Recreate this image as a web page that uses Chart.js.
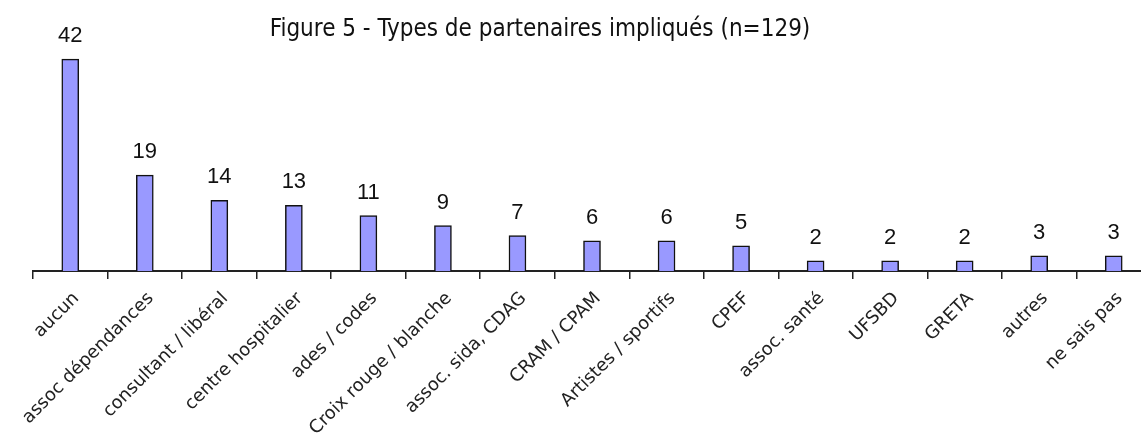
<!DOCTYPE html>
<html lang="fr">
<head>
    <meta charset="UTF-8">
    <title>Figure 5 - Types de partenaires impliqués</title>
    <script src="https://cdn.jsdelivr.net/npm/chart.js"></script>
    <style>
        html, body {
            margin: 0;
            padding: 0;
            background-color: #ffffff;
            overflow: hidden;
        }
        #chart-box {
            width: 1151px;
            height: 437px;
        }
    </style>
</head>
<body>
    <div id="chart-box">
        <canvas id="partnersChart" width="1151" height="437"></canvas>
    </div>
    <script>
        const titleText = 'Figure 5 - Types de partenaires impliqués (n=129)';
        const categories = [
            'aucun', 'assoc dépendances', 'consultant / libéral', 'centre hospitalier',
            'ades / codes', 'Croix rouge / blanche', 'assoc. sida, CDAG', 'CRAM / CPAM',
            'Artistes / sportifs', 'CPEF', 'assoc. santé', 'UFSBD', 'GRETA', 'autres', 'ne sais pas'
        ];
        const counts = [42, 19, 14, 13, 11, 9, 7, 6, 6, 5, 2, 2, 2, 3, 3];
        const yMax = 45;

        // valeurs au-dessus des barres + titre
        const labelsPlugin = {
            id: 'valueLabels',
            afterDatasetsDraw(chart) {
                const ctx = chart.ctx;
                const meta = chart.getDatasetMeta(0);
                ctx.save();
                ctx.fillStyle = '#111';
                ctx.font = '22px "Liberation Sans", Arial, sans-serif';
                ctx.textAlign = 'center';
                ctx.textBaseline = 'alphabetic';
                meta.data.forEach((bar, i) => {
                    ctx.fillText(String(counts[i]), bar.x, bar.y - 17);
                });
                ctx.font = '24px "Liberation Sans Narrow", "DejaVu Sans Condensed", Arial, sans-serif';
                ctx.fillText(titleText, 540, 36);
                ctx.restore();
            }
        };

        const ctx = document.getElementById('partnersChart').getContext('2d');
        new Chart(ctx, {
            type: 'bar',
            data: {
                labels: categories,
                datasets: [{
                    data: counts,
                    backgroundColor: '#9999ff',
                    borderColor: '#111',
                    borderWidth: 1.5,
                    barThickness: 17
                }]
            },
            options: {
                responsive: false,
                animation: false,
                layout: {
                    padding: { top: 44, left: 33, right: 0, bottom: 0 }
                },
                plugins: {
                    legend: { display: false },
                    title: { display: false },
                    tooltip: { enabled: false }
                },
                scales: {
                    x: {
                        grid: {
                            display: true,
                            drawOnChartArea: false,
                            drawTicks: true,
                            tickLength: 8,
                            color: '#222',
                            lineWidth: 1.5,
                            offset: true
                        },
                        border: { display: true, color: '#222', width: 2 },
                        ticks: {
                            color: '#222',
                            font: { family: '"DejaVu Sans", sans-serif', size: 18 },
                            minRotation: 45,
                            maxRotation: 45,
                            autoSkip: false,
                            padding: 9,
                            labelOffset: 6
                        },
                        afterFit(scale) {
                            scale.height = 166;
                            scale.paddingLeft = 0;
                            scale.paddingRight = 0;
                        }
                    },
                    y: {
                        display: false,
                        min: 0,
                        max: yMax
                    }
                }
            },
            plugins: [labelsPlugin]
        });
    </script>
</body>
</html>
